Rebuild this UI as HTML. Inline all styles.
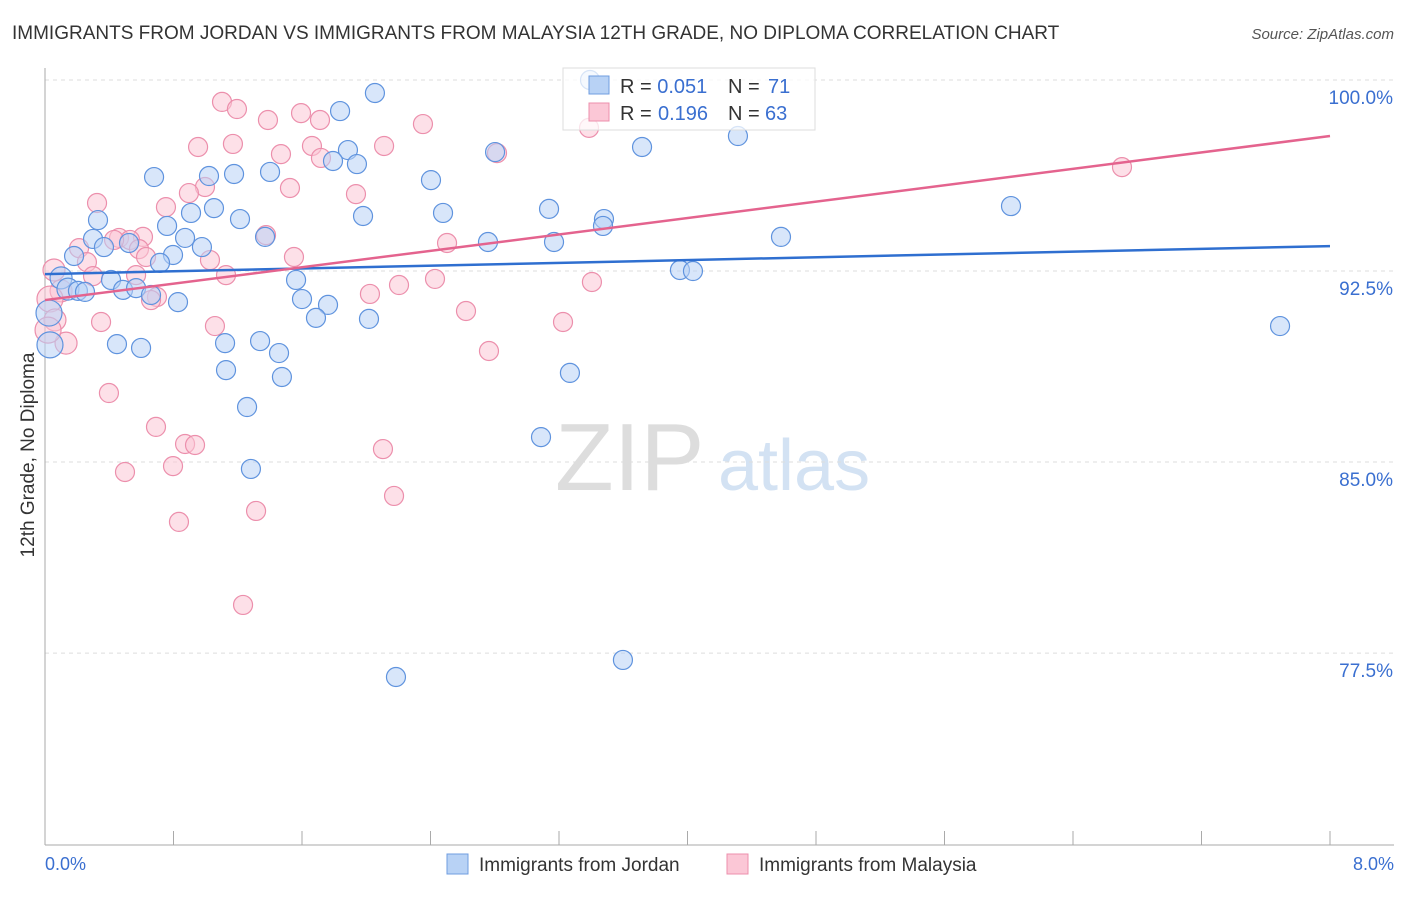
<!DOCTYPE html>
<html><head><meta charset="utf-8"><style>
body{margin:0;background:#fff;font-family:"Liberation Sans",sans-serif;}
svg text{font-family:"Liberation Sans",sans-serif;}
</style></head><body>
<svg id="c" width="1406" height="892" xmlns="http://www.w3.org/2000/svg">
<text x="12" y="39" font-size="19" fill="#333">IMMIGRANTS FROM JORDAN VS IMMIGRANTS FROM MALAYSIA 12TH GRADE, NO DIPLOMA CORRELATION CHART</text>
<text x="1394" y="39" font-size="15" fill="#555" font-style="italic" text-anchor="end">Source: ZipAtlas.com</text>
<text x="555" y="490" font-size="96" fill="#ddd" font-family="Liberation Serif">ZIP</text>
<text x="718" y="490" font-size="72" fill="#d3e2f3">atlas</text>
<g id="grid"></g><g id="axes"></g><g id="pts"></g><g id="lines"></g>
<text transform="translate(34,455) rotate(-90)" font-size="19" fill="#333" text-anchor="middle">12th Grade, No Diploma</text>
<text x="45" y="870" font-size="18" fill="#3a6fd0">0.0%</text>
<text x="1394" y="870" font-size="18" fill="#3a6fd0" text-anchor="end">8.0%</text>
<g>
<rect x="563" y="68" width="252" height="62" fill="#fff" fill-opacity="0.75" stroke="#ddd"/>
<rect x="589" y="76" width="20" height="18" fill="#b8d2f5" stroke="#6f9de0"/>
<rect x="589" y="103" width="20" height="18" fill="#fbc7d6" stroke="#ec8fac"/>
<text x="620" y="93" font-size="20" fill="#333">R = <tspan fill="#3a6fd0">0.051</tspan><tspan x="728">N = </tspan><tspan fill="#3a6fd0" x="768">71</tspan></text>
<text x="620" y="120" font-size="20" fill="#333">R = <tspan fill="#3a6fd0" x="658">0.196</tspan><tspan x="728">N = </tspan><tspan fill="#3a6fd0" x="765">63</tspan></text>
</g>
<g>
<rect x="447" y="854" width="21" height="20" fill="#b8d2f5" stroke="#6f9de0"/>
<text x="479" y="871" font-size="19" fill="#333">Immigrants from Jordan</text>
<rect x="727" y="854" width="21" height="20" fill="#fbc7d6" stroke="#ec8fac"/>
<text x="759" y="871" font-size="19" fill="#333">Immigrants from Malaysia</text>
</g>
</svg>
<script>
const yTicks=[100,92.5,85,77.5];
const yTickLabels=["100.0%","92.5%","85.0%","77.5%"];
const xTicks=[0,0.8,1.6,2.4,3.2,4.0,4.8,5.6,6.4,7.2,8.0];
const jordanPx=[[590,80],[375,93],[340,111],[738,136],[642,147],[495,152],[348,150],[333,161],[357,164],[154,177],[209,176],[234,174],[270,172],[431,180],[1011,206],[214,208],[191,213],[363,216],[443,213],[549,209],[604,219],[603,226],[98,220],[240,219],[167,226],[265,237],[185,238],[93,239],[202,247],[129,243],[104,247],[488,242],[554,242],[781,237],[173,255],[160,263],[74,256],[680,270],[693,271],[61,278],[111,280],[296,280],[68,289],[78,291],[85,292],[123,290],[136,288],[151,295],[178,302],[302,299],[328,305],[316,318],[369,319],[1280,326],[49,313],[117,344],[141,348],[225,343],[260,341],[279,353],[50,345],[226,370],[282,377],[570,373],[247,407],[541,437],[251,469],[623,660],[396,677]];
const malaysiaPx=[[222,102],[237,109],[301,113],[320,120],[268,120],[423,124],[589,128],[198,147],[233,144],[281,154],[312,146],[384,146],[497,153],[321,158],[1122,167],[205,187],[290,188],[189,193],[356,194],[166,207],[97,203],[266,235],[119,238],[143,237],[130,240],[114,240],[447,243],[79,248],[139,249],[146,257],[87,262],[210,260],[294,257],[226,275],[93,276],[136,275],[435,279],[399,285],[592,282],[61,291],[157,297],[151,300],[370,294],[50,299],[466,311],[55,320],[101,322],[215,326],[563,322],[66,343],[489,351],[109,393],[156,427],[185,444],[195,445],[173,466],[125,472],[383,449],[394,496],[179,522],[256,511],[243,605],[54,270],[48,330]];
const jordanX=jordanPx.map(p=>+((p[0]-45)/1285*8).toFixed(3));
const jordanY=jordanPx.map(p=>+(100-(p[1]-80)/25.47).toFixed(2));
const malaysiaX=malaysiaPx.map(p=>+((p[0]-45)/1285*8).toFixed(3));
const malaysiaY=malaysiaPx.map(p=>+(100-(p[1]-80)/25.47).toFixed(2));
const jordanTrend=[92.38,93.48];
const malaysiaTrend=[91.36,97.8];
const X=v=>45+v/8*1285, Y=v=>80+(100-v)*25.47;
const NS="http://www.w3.org/2000/svg";
function mk(t,a,p){const e=document.createElementNS(NS,t);for(const k in a)e.setAttribute(k,a[k]);p.appendChild(e);return e;}
const grid=document.getElementById('grid');
yTicks.forEach((v,i)=>{
 const l=mk('line',{x1:45,x2:1394,y1:Y(v),y2:Y(v),stroke:'#ddd','stroke-dasharray':'4,4'},grid);
 
 
 const t=mk('text',{x:1393,y:Y(v)+24,'font-size':19,fill:'#3a6fd0','text-anchor':'end'},grid);
 t.textContent=yTickLabels[i];
 
 
});
const ax=document.getElementById('axes');
const a1=mk('line',{x1:45,x2:45,y1:68,y2:845,stroke:'#aaa'},ax);


const a2=mk('line',{x1:45,x2:1394,y1:845,y2:845,stroke:'#aaa'},ax);


xTicks.forEach(v=>{const t=mk('line',{x1:X(v),x2:X(v),y1:831,y2:845,stroke:'#aaa'},ax);
 
 });
const pts=document.getElementById('pts');
function draw(xs,ys,fill,stroke,name){xs.forEach((x,i)=>{
 const r=x<0.05?13:(x<0.15?11:9.5);
 const c=mk('circle',{cx:X(x),cy:Y(ys[i]),r:r,fill:fill,'fill-opacity':0.55,stroke:stroke,'stroke-width':1.2},pts);
 
 });}
draw(malaysiaX,malaysiaY,'#fbc7d6','#ec8fac','malaysia-point');
draw(jordanX,jordanY,'#b8d2f5','#5f93de','jordan-point');
const ln=document.getElementById('lines');
const l1=mk('line',{x1:X(0),x2:X(8),y1:Y(jordanTrend[0]),y2:Y(jordanTrend[1]),stroke:'#2f6fd0','stroke-width':2.5},ln);


const l2=mk('line',{x1:X(0),x2:X(8),y1:Y(malaysiaTrend[0]),y2:Y(malaysiaTrend[1]),stroke:'#e4638e','stroke-width':2.5},ln);


</script>
</body></html>
